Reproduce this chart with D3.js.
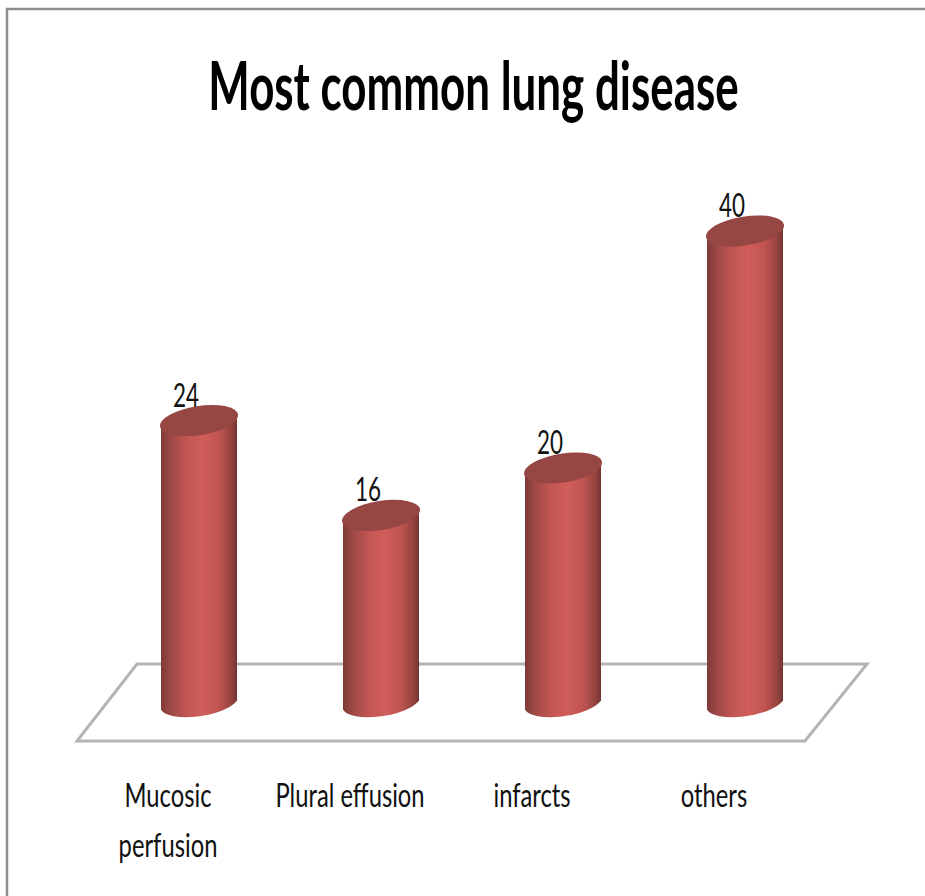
<!DOCTYPE html>
<html>
<head>
<meta charset="utf-8">
<script src="https://cdn.jsdelivr.net/npm/d3@7"></script>
<style>
  html, body { margin: 0; padding: 0; background: #fff; }
  svg { display: block; }
  text { font-family: Lato, "Open Sans", sans-serif; fill: #111; }
</style>
</head>
<body>
<div id="chart"></div>
<script>
const categories = ["Mucosic perfusion", "Plural effusion", "infarcts", "others"];
const categoryLines = [["Mucosic", "perfusion"], ["Plural effusion"], ["infarcts"], ["others"]];
const values = [24, 16, 20, 40];
const chartTitle = "Most common lung disease";

const width = 925;
const height = 896;

const svg = d3.select("#chart").append("svg")
  .attr("width", width)
  .attr("height", height);

const defs = svg.append("defs");
const grad = defs.append("linearGradient").attr("id", "barFill");
[[0, "#7e3a38"], [0.14, "#a04a47"], [0.34, "#c25653"], [0.55, "#d05e5a"],
 [0.76, "#bf5451"], [0.92, "#97443f"], [1, "#723432"]].forEach(s => {
  grad.append("stop").attr("offset", s[0]).attr("stop-color", s[1]);
});

// page frame
svg.append("path")
  .attr("d", `M7,${height}V9H${width}`)
  .attr("fill", "none")
  .attr("stroke", "#8e8e8e")
  .attr("stroke-width", 2.5);

// title
svg.append("text")
  .attr("transform", "translate(473.5,110) scale(0.665,1)")
  .attr("text-anchor", "middle")
  .attr("font-size", 66)
  .attr("font-weight", 700)
  .style("fill", "#000")
  .text(chartTitle);

const x = d3.scaleBand()
  .domain(categories)
  .range([108, 836])
  .paddingInner(0)
  .paddingOuter(0);
const y = d3.scaleLinear().domain([0, 40]).range([705, 231]);

// floor of the 3d plot
const floorTop = 664, floorBottom = 741;
svg.append("path")
  .attr("d", `M137,${floorTop}H867L805,${floorBottom}H77Z`)
  .attr("fill", "#fff")
  .attr("stroke", "#b4b4b4")
  .attr("stroke-width", 3);

const barW = 76, rx = 39.5, ry = 14.5, tilt = -9;
const lift = 4.5; // vertical offset of the tilted ellipse edge

const bars = svg.selectAll(".bar")
  .data(categories.map((c, i) => ({ c, v: values[i] })))
  .enter().append("g")
  .attr("class", "bar")
  .attr("transform", d => `translate(${x(d.c) + x.bandwidth() / 2},0)`);

bars.append("path")
  .attr("fill", "url(#barFill)")
  .attr("d", d => {
    const h = barW / 2;
    return `M${-h},${y(d.v) + lift}V${y(0) + lift}` +
      `A${rx},${ry} ${tilt} 0 0 ${h},${y(0) - lift}` +
      `V${y(d.v) - lift}Z`;
  });

bars.append("ellipse")
  .attr("rx", rx)
  .attr("ry", ry)
  .attr("fill", "#964643")
  .attr("transform", d => `translate(0,${y(d.v)}) rotate(${tilt})`);

// value labels
bars.append("text")
  .attr("transform", d => `translate(-13,${y(d.v) - 14}) scale(0.68,1)`)
  .attr("text-anchor", "middle")
  .attr("font-size", 33)
  .text(d => d.v);

// category labels, through the band axis
const axis = svg.append("g")
  .attr("transform", "translate(0,741)")
  .call(d3.axisBottom(x).tickSize(0));
axis.select(".domain").remove();
axis.selectAll(".tick text").remove();
axis.selectAll(".tick").each(function (c) {
  const lines = categoryLines[categories.indexOf(c)];
  lines.forEach((line, i) => {
    d3.select(this).append("text")
      .attr("transform", `translate(-31,${66 + i * 50}) scale(0.72,1)`)
      .attr("text-anchor", "middle")
      .attr("font-size", 33)
      .text(line);
  });
});
</script>
</body>
</html>
